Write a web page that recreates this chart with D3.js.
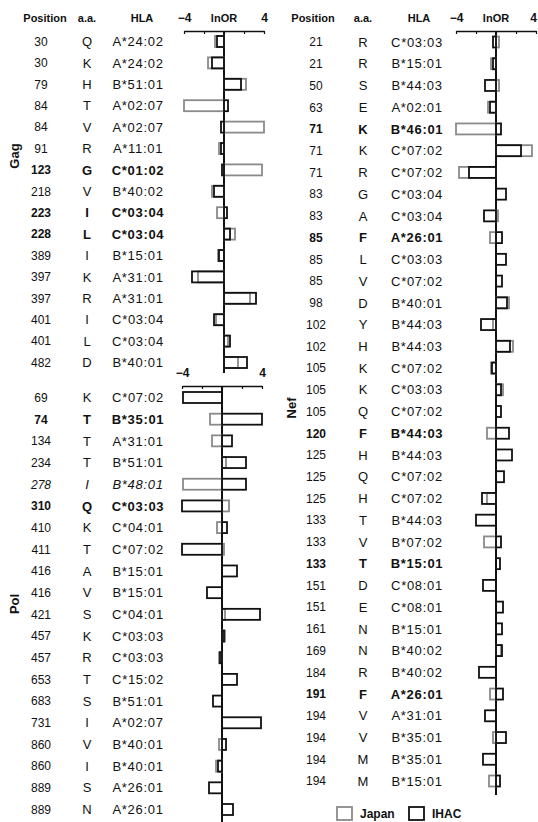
<!DOCTYPE html>
<html><head><meta charset="utf-8">
<script src="https://cdn.jsdelivr.net/npm/d3@7"></script>
<style>
body{margin:0;background:#fff;}
svg{display:block;font-family:"Liberation Sans",Arial,sans-serif;}
</style></head>
<body>
<svg id="c" width="538" height="822"></svg>
<script>
// ---------- DATA ----------
const gagPos   = ["30","30","79","84","84","91","123","218","223","228","389","397","397","401","401","482"];
const gagAA    = ["Q","K","H","T","V","R","G","V","I","L","I","K","R","I","L","D"];
const gagHLA   = ["A*24:02","A*24:02","B*51:01","A*02:07","A*02:07","A*11:01","C*01:02","B*40:02","C*03:04","C*03:04","B*15:01","A*31:01","A*31:01","C*03:04","C*03:04","B*40:01"];
const gagJapan = [-0.9,-1.6,2.2,-4.0,4.0,-0.5,3.8,-1.2,-0.7,1.1,-0.6,-2.6,2.6,-0.8,0.4,1.4];
const gagIHAC  = [-0.7,-1.2,1.7,0.4,-0.3,-0.3,-0.2,-1.0,0.3,0.6,-0.5,-3.2,3.2,-1.0,0.6,2.3];
const gagBold  = [6,8,9];

const polPos   = ["69","74","134","234","278","310","410","411","416","416","421","457","457","653","683","731","860","860","889","889"];
const polAA    = ["K","T","T","T","I","Q","K","T","A","V","S","K","R","T","S","I","V","I","S","N"];
const polHLA   = ["C*07:02","B*35:01","A*31:01","B*51:01","B*48:01","C*03:03","C*04:01","C*07:02","B*15:01","B*15:01","C*04:01","C*03:03","C*03:03","C*15:02","B*51:01","A*02:07","B*40:01","B*40:01","A*26:01","A*26:01"];
const polJapan = [null,-1.2,-1.0,0.4,-3.9,0.7,-0.5,0.2,null,null,0.3,0.3,-0.3,null,null,null,-0.3,-0.6,null,null];
const polIHAC  = [-3.9,4.0,1.0,2.4,2.4,-4.0,0.5,-4.0,1.5,-1.5,3.8,0.2,-0.2,1.5,-0.9,3.9,0.4,-0.4,-1.3,1.1];
const polBold  = [1,5];
const polItalic= [4];

const nefPos   = ["21","21","50","63","71","71","71","83","83","85","85","85","98","102","102","105","105","105","120","125","125","125","133","133","133","151","151","161","169","184","191","194","194","194","194"];
const nefAA    = ["R","R","S","E","K","K","R","G","A","F","L","V","D","Y","H","K","K","Q","F","H","Q","H","T","V","T","D","E","N","N","R","F","V","V","M","M"];
const nefHLA   = ["C*03:03","B*15:01","B*44:03","A*02:01","B*46:01","C*07:02","C*07:02","C*03:04","C*03:04","A*26:01","C*03:03","C*07:02","B*40:01","B*44:03","B*44:03","C*07:02","C*03:03","C*07:02","B*44:03","B*44:03","C*07:02","C*07:02","B*44:03","B*07:02","B*15:01","C*08:01","C*08:01","B*15:01","B*40:02","B*40:02","A*26:01","A*31:01","B*35:01","B*35:01","B*15:01"];
const nefJapan = [0.3,-0.5,0.3,-0.8,-4.0,3.6,-3.7,null,0.2,-0.6,null,null,1.3,-0.3,1.7,-0.5,0.7,null,-0.9,null,null,-0.9,null,-1.2,null,null,null,null,0.5,null,-0.6,null,-0.3,null,-0.7];
const nefIHAC  = [-0.3,-0.3,-1.1,-0.6,0.5,2.5,-2.7,1.0,-1.2,0.6,1.0,0.6,1.1,-1.5,1.4,-0.4,0.5,0.5,1.3,1.6,0.8,-1.4,-2.0,0.5,0.4,-1.3,0.7,0.6,0.6,-1.7,0.7,-1.1,1.0,-1.3,0.4];
const nefBold  = [4,9,18,24,30];

const seriesNames = ["Japan","IHAC"];
const axisTicks = [-4,-2,0,2,4];

// ---------- STYLE ----------
const colJapan = "#8a8a8a", colIHAC = "#111";
const svg = d3.select("#c");
const FONT = "Liberation Sans, Arial, sans-serif";

function panel(cfg){
  const n = cfg.pos.length;
  const x = d3.scaleLinear().domain([-4,4]).range(cfg.xr);
  const y = d3.scalePoint().domain(d3.range(n)).range(cfg.yr);
  const g = svg.append("g");
  // axis
  const ax = d3.axisTop(x).tickValues(axisTicks).tickSizeInner(-3).tickSizeOuter(0).tickPadding(9)
    .tickFormat(d => (d===-4||d===4) ? d3.format("")(d) : "");
  const ag = g.append("g").attr("transform",`translate(0,${cfg.axisY})`).call(ax);
  ag.select(".domain").attr("stroke","#111").attr("stroke-width",1.6);
  ag.selectAll(".tick line").attr("stroke","#111").attr("stroke-width",1.2);
  ag.selectAll(".tick text").attr("font-family",FONT).attr("font-size",12).attr("font-weight","bold").attr("fill","#111")
    .attr("dx", d => d===4 ? cfg.lastDx : 0);
  // zero line
  g.append("line").attr("x1",x(0)).attr("x2",x(0)).attr("y1",cfg.axisY).attr("y2",cfg.zeroEnd)
    .attr("stroke","#111").attr("stroke-width",2);
  const bh = 11;
  const rows = d3.range(n);
  g.selectAll(".bj").data(rows.filter(i=>cfg.jp[i]!=null)).join("rect")
    .attr("x",i=>Math.min(x(0),x(cfg.jp[i]))).attr("width",i=>Math.abs(x(cfg.jp[i])-x(0)))
    .attr("y",i=>y(i)-bh/2).attr("height",bh)
    .attr("fill","none").attr("stroke",colJapan).attr("stroke-width",1.8);
  g.selectAll(".bi").data(rows.filter(i=>cfg.ih[i]!=null)).join("rect")
    .attr("x",i=>Math.min(x(0),x(cfg.ih[i]))).attr("width",i=>Math.abs(x(cfg.ih[i])-x(0)))
    .attr("y",i=>y(i)-bh/2).attr("height",bh)
    .attr("fill","none").attr("stroke",colIHAC).attr("stroke-width",1.8);
  // text columns
  const tg = g.append("g").attr("font-family",FONT).attr("fill","#111");
  rows.forEach(i=>{
    const b = cfg.bold.includes(i) ? "bold" : "normal";
    const it = (cfg.italic||[]).includes(i) ? "italic" : "normal";
    tg.append("text").attr("x",cfg.cx[0]).attr("y",y(i)).attr("dy","0.36em").attr("text-anchor","middle")
      .attr("font-size",12).attr("font-weight",b).attr("font-style",it).text(cfg.pos[i]);
    tg.append("text").attr("x",cfg.cx[1]).attr("y",y(i)).attr("dy","0.36em").attr("text-anchor","middle")
      .attr("font-size",13).attr("font-weight",b).attr("font-style",it).text(cfg.aa[i]);
    tg.append("text").attr("x",cfg.cx[2]).attr("y",y(i)).attr("dy","0.36em").attr("text-anchor","middle")
      .attr("font-size",13).attr("letter-spacing","0.7px").attr("font-weight",b).attr("font-style",it).text(cfg.hla[i]);
  });
  tg.append("text").attr("transform",`translate(${cfg.lab[0]},${cfg.lab[1]}) rotate(-90)`)
    .attr("text-anchor","middle").attr("dy","0.36em").attr("font-size",13).attr("font-weight","bold").text(cfg.name);
  return x;
}

const xG = panel({name:"Gag",pos:gagPos,aa:gagAA,hla:gagHLA,jp:gagJapan,ih:gagIHAC,bold:gagBold,lastDx:0,
  xr:[184,264],yr:[41.5,362.5],axisY:31,zeroEnd:373,cx:[41,87,138],lab:[14,156]});
const xP = panel({name:"Pol",pos:polPos,aa:polAA,hla:polHLA,jp:polJapan,ih:polIHAC,bold:polBold,italic:polItalic,lastDx:0,
  xr:[182,262],yr:[397.5,809.5],axisY:386,zeroEnd:822,cx:[41,87,138],lab:[14,604]});
const xN = panel({name:"Nef",pos:nefPos,aa:nefAA,hla:nefHLA,jp:nefJapan,ih:nefIHAC,bold:nefBold,lastDx:-3,
  xr:[456,536],yr:[42,781],axisY:31,zeroEnd:795,cx:[316,363,417],lab:[291,408]});

// headers
const hdr = svg.append("g").attr("font-family",FONT).attr("font-size",11).attr("font-weight","bold").attr("fill","#111").attr("text-anchor","middle");
[[45,"Position"],[87,"a.a."],[142,"HLA"],[xG(0),"lnOR"],
 [313,"Position"],[363,"a.a."],[419,"HLA"],[xN(0),"lnOR"]].forEach(h=>{
  hdr.append("text").attr("x",h[0]).attr("y",22).text(h[1]);
});

// legend
const lg = svg.append("g").attr("font-family",FONT).attr("font-size",12).attr("font-weight","bold").attr("fill","#111");
const legX = [337,409];
seriesNames.forEach((s,i)=>{
  lg.append("rect").attr("x",legX[i]).attr("y",807).attr("width",15).attr("height",13)
    .attr("fill","none").attr("stroke",i===0?colJapan:colIHAC).attr("stroke-width",1.8);
  lg.append("text").attr("x",legX[i]+23).attr("y",818).text(s);
});
</script>
</body></html>
